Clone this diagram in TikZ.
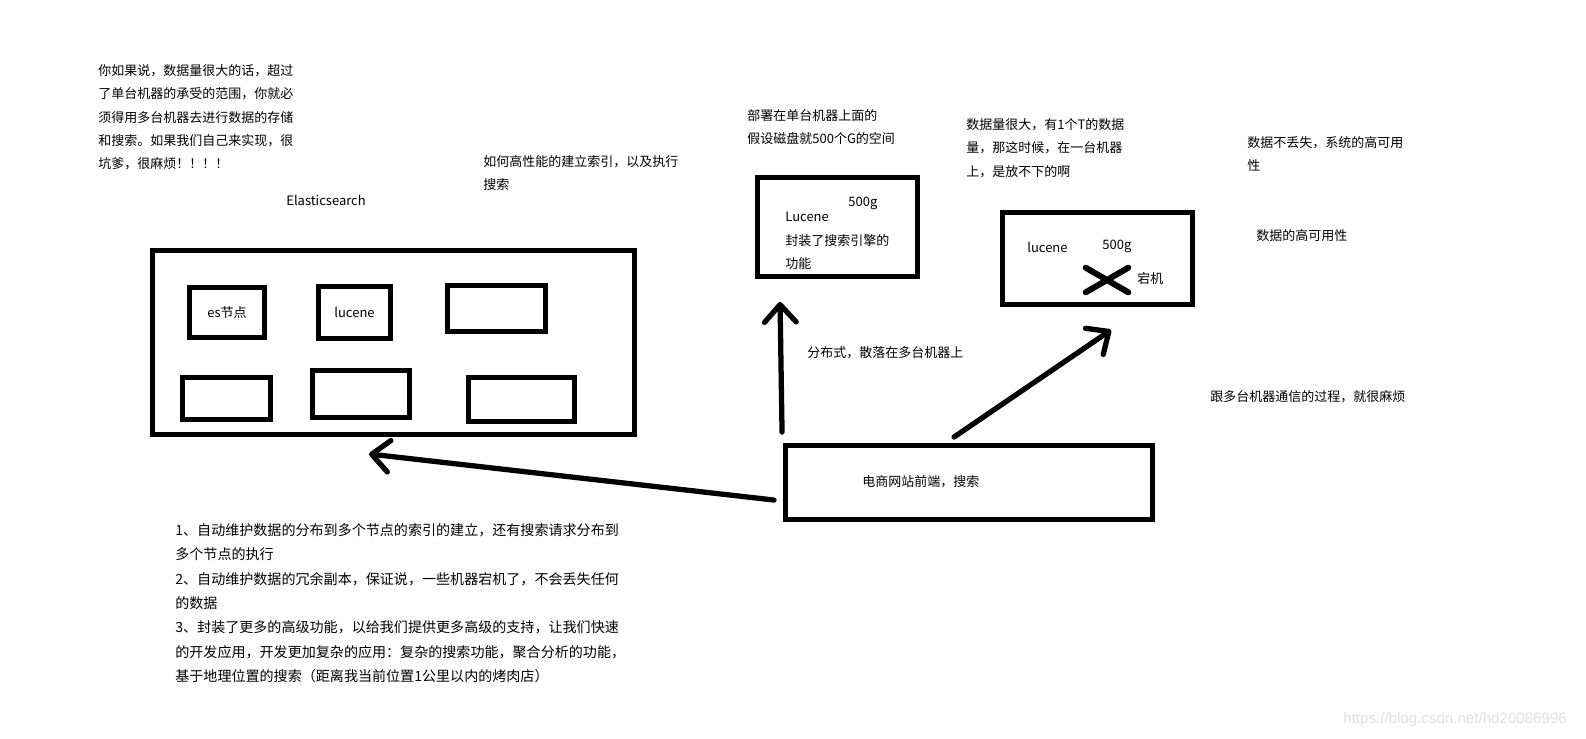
\documentclass[tikz,border=0pt]{standalone}
\usepackage{fontspec}
\setmainfont{Noto Sans CJK SC}
\newfontfamily\markfont{Liberation Sans}
\usetikzlibrary{arrows.meta, calc}

\begin{document}
\begin{tikzpicture}[
    x=0.02cm, y=-0.02cm,
    box/.style 2 args={
        rectangle, draw=black, line width=2.8pt,
        minimum width=#1*0.02cm, minimum height=#2*0.02cm,
        inner sep=0pt, font=\fontsize{7.4}{13}\selectfont
    },
    note/.style={
        anchor=north west, align=left, inner sep=0pt,
        font=\fontsize{7.4}{13.3}\selectfont
    },
    label/.style={
        anchor=west, inner sep=0pt,
        font=\fontsize{7.4}{13}\selectfont
    },
    arrow/.style={
        -{Straight Barb[length=10pt, width=18pt, round]},
        line width=3pt, line cap=round
    }
]
\useasboundingbox (0,0) rectangle (1586,738);

% Elasticsearch cluster
\node[box={482}{184}] (cluster) at (393.5,342.5) {};
\node[box={75}{50}] (esnode) at (227,312.5) {es节点};
\node[box={72}{52}] (lucenenode) at (354.5,312.5) {lucene};
\node[box={98}{46}] (slot3) at (496.5,308.5) {};
\node[box={88}{42}] (slot4) at (226.5,398.5) {};
\node[box={97}{47}] (slot5) at (361,394) {};
\node[box={106}{44}] (slot6) at (521.5,399.5) {};
\node[label] (estitle) at (286,200) {Elasticsearch};

% Single machine
\node[box={160}{99}] (single) at (837.5,227) {};
\node[label] (singlesize) at (848,203) {500g};
\node[note] (singletext) at (785,212) {Lucene\\封装了搜索引擎的\\功能};

% Crashed machine
\node[box={190}{92}] (crashed) at (1097.5,258.5) {};
\node[label] (crashedlucene) at (1027,247) {lucene};
\node[label] (crashedsize) at (1102,246) {500g};
\node[minimum width=0.84cm, minimum height=0.48cm, inner sep=0pt] (crash) at (1107,280) {};
\draw[line width=3.4pt, line cap=round] (crash.north west) -- (crash.south east)
    (crash.south west) -- (crash.north east);
\node[label] (crashlabel) at (1137,279) {宕机};

% Front end
\node[box={367}{74}] (front) at (969,482.5) {};
\node[label] (fronttext) at (862,482) {电商网站前端，搜索};

% Arrows
\draw[arrow] ($(front.north west)+(-1,-11)$) -- ($(single.south west)+(25,23)$);
\draw[arrow] ($(front.north west)+(171,-6)$) -- ($(crashed.south west)+(111,23)$);
\draw[arrow] ($(front.north west)+(-9,57)$) -- ($(cluster.south west)+(219,17)$);

% Notes
\node[note] (toomuch) at (98,64) {你如果说，数据量很大的话，超过\\了单台机器的承受的范围，你就必\\须得用多台机器去进行数据的存储\\和搜索。如果我们自己来实现，很\\坑爹，很麻烦！！！！};
\node[note] (howindex) at (483,155) {如何高性能的建立索引，以及执行\\搜索};
\node[note] (deploy) at (747,109) {部署在单台机器上面的\\假设磁盘就500个G的空间};
\node[note] (bigdata) at (966,118) {数据量很大，有1个T的数据\\量，那这时候，在一台机器\\上，是放不下的啊};
\node[note] (nolost) at (1247,136) {数据不丢失，系统的高可用\\性};
\node[label] (available) at (1256,236) {数据的高可用性};
\node[label] (distrib) at (807,353) {分布式，散落在多台机器上};
\node[label] (talk) at (1210,397) {跟多台机器通信的过程，就很麻烦};
\node[note, font=\fontsize{8}{13.9}\selectfont] (features) at (175,523) {1、自动维护数据的分布到多个节点的索引的建立，还有搜索请求分布到\\多个节点的执行\\2、自动维护数据的冗余副本，保证说，一些机器宕机了，不会丢失任何\\的数据\\3、封装了更多的高级功能，以给我们提供更多高级的支持，让我们快速\\的开发应用，开发更加复杂的应用：复杂的搜索功能，聚合分析的功能，\\基于地理位置的搜索（距离我当前位置1公里以内的烤肉店）};

% Watermark
\node[label, font=\markfont\fontsize{8.6}{10}\selectfont, text=black!12] (mark) at (1343,720) {https://blog.csdn.net/hd20086996};

\end{tikzpicture}
\end{document}
